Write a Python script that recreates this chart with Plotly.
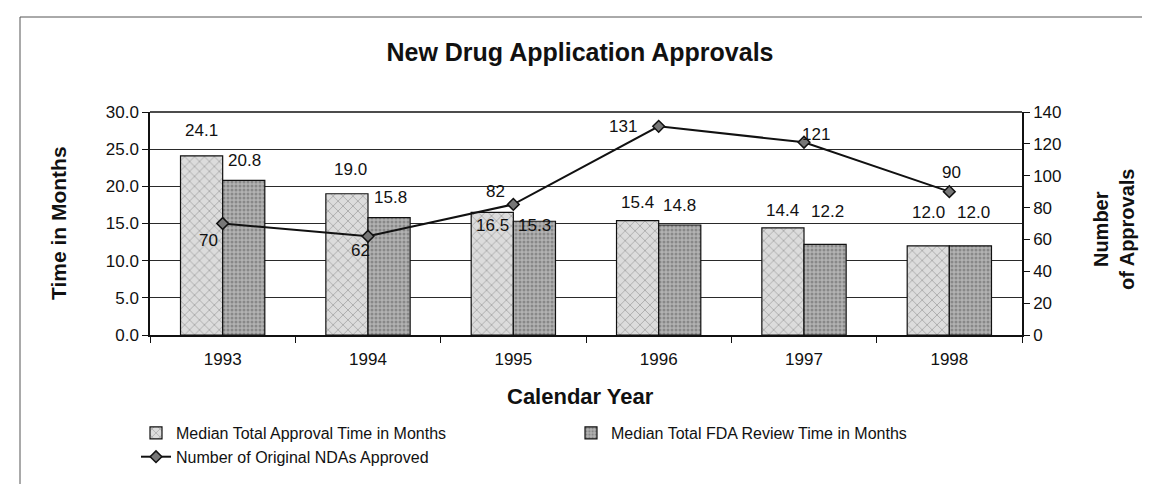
import plotly.graph_objects as go

# ---------------- data ----------------
years = ["1993", "1994", "1995", "1996", "1997", "1998"]
total_approval_months = [24.1, 19.0, 16.5, 15.4, 14.4, 12.0]
fda_review_months = [20.8, 15.8, 15.3, 14.8, 12.2, 12.0]
ndas_approved = [70, 62, 82, 131, 121, 90]

# ---------------- label offsets (pixels, styling only) ----------------
total_lbl_dx = [0, 4, 0, 0, 0, 0]
total_lbl_dy = [25, 24, -13, 18, 17, 33]
review_lbl_dx = [1, 1, 0, 0, 2, 3]
review_lbl_dy = [20, 20, -4, 19, 33, 33]
line_lbl_dx = [-14, -8, -18, -36, 12, 2]
line_lbl_dy = [-17, -14, 13, 0, 8, 19]

# ---------------- layout geometry ----------------
W, H = 1150, 484
ML, MR, MT, MB = 142, 136, 104, 157
PW = W - ML - MR
PH = H - MT - MB
BARGAP = 0.42
bar_px = PW / len(years) * (1 - BARGAP) / 2

FONT = "Liberation Sans, Arial, Helvetica, sans-serif"

xpos = list(range(len(years)))  # category index positions


def px_x(px):
    return (px - ML) / PW


def px_y(py):
    return (H - MB - py) / PH


fig = go.Figure()

fig.add_trace(go.Bar(
    x=xpos, y=total_approval_months,
    name="Median Total Approval Time in Months",
    marker=dict(
        color="#dadada",
        line=dict(color="#111", width=1.2),
        pattern=dict(shape="x", fgcolor="#7a7a7a", bgcolor="#dcdcdc", size=7, solidity=0.25),
    ),
))
fig.add_trace(go.Bar(
    x=xpos, y=fda_review_months,
    name="Median Total FDA Review Time in Months",
    marker=dict(
        color="#a8a8a8",
        line=dict(color="#111", width=1.2),
        pattern=dict(shape=".", fgcolor="#5e5e5e", bgcolor="#b2b2b2", size=4, solidity=0.45),
    ),
))
fig.add_trace(go.Scatter(
    x=xpos, y=ndas_approved, yaxis="y2",
    name="Number of Original NDAs Approved",
    mode="lines+markers",
    line=dict(color="#111", width=2),
    marker=dict(symbol="diamond", size=9, color="#777", line=dict(color="#111", width=1.5)),
))

ann = []
for i in xpos:
    ann.append(dict(x=i, y=total_approval_months[i], xref="x", yref="y",
                    text=f"{total_approval_months[i]:.1f}", showarrow=False,
                    xanchor="center", yanchor="middle",
                    xshift=-bar_px / 2 + total_lbl_dx[i], yshift=total_lbl_dy[i],
                    font=dict(size=17, color="#111", family=FONT)))
    ann.append(dict(x=i, y=fda_review_months[i], xref="x", yref="y",
                    text=f"{fda_review_months[i]:.1f}", showarrow=False,
                    xanchor="center", yanchor="middle",
                    xshift=bar_px / 2 + review_lbl_dx[i], yshift=review_lbl_dy[i],
                    font=dict(size=17, color="#111", family=FONT)))
    ann.append(dict(x=i, y=ndas_approved[i], xref="x", yref="y2",
                    text=str(ndas_approved[i]), showarrow=False,
                    xanchor="center", yanchor="middle",
                    xshift=line_lbl_dx[i], yshift=line_lbl_dy[i],
                    font=dict(size=17, color="#111", family=FONT)))

# axis titles
ann.append(dict(x=px_x(50), y=px_y(215), xref="paper", yref="paper", showarrow=False,
                xanchor="center", yanchor="middle",
                text="<b>Time in Months</b>", textangle=-90,
                font=dict(size=21, color="#111", family=FONT)))
ann.append(dict(x=px_x(1106), y=px_y(221), xref="paper", yref="paper", showarrow=False,
                xanchor="center", yanchor="middle",
                text="<b>Number<br>of Approvals</b>", textangle=-90,
                font=dict(size=20, color="#111", family=FONT)))
ann.append(dict(x=px_x(572), y=px_y(388), xref="paper", yref="paper", showarrow=False,
                xanchor="center", yanchor="middle",
                text="<b>Calendar Year</b>",
                font=dict(size=22, color="#111", family=FONT)))

fig.update_layout(
    width=W, height=H,
    margin=dict(l=ML, r=MR, t=MT, b=MB, autoexpand=False),
    paper_bgcolor="white", plot_bgcolor="white",
    font=dict(family=FONT, size=17, color="#111"),
    title=dict(text="<b>New Drug Application Approvals</b>",
               x=572 / W, xanchor="center", y=1 - 44 / H, yanchor="middle",
               font=dict(size=25, color="#111", family=FONT)),
    barmode="group", bargap=BARGAP, bargroupgap=0,
    xaxis=dict(
        range=[-0.5, len(years) - 0.5],
        tickmode="array", tickvals=xpos, ticktext=years,
        showline=True, linecolor="#111", linewidth=1.5,
        ticks="", tickfont=dict(size=17), showgrid=False, zeroline=False,
        ticklabelstandoff=8,
        minor=dict(tick0=0.5, dtick=1, ticks="outside", ticklen=6,
                   tickcolor="#111", showgrid=False),
    ),
    yaxis=dict(
        range=[0, 30], dtick=5, tickformat=".1f",
        showline=True, linecolor="#111", linewidth=1.5,
        ticks="outside", ticklen=6, tickcolor="#111",
        showgrid=True, gridcolor="#2a2a2a", gridwidth=1.2,
        zeroline=False, tickfont=dict(size=17),
    ),
    yaxis2=dict(
        range=[0, 140], dtick=20, overlaying="y", side="right",
        showline=True, linecolor="#111", linewidth=1.5,
        ticks="outside", ticklen=6, tickcolor="#111",
        showgrid=False, zeroline=False, tickfont=dict(size=17),
    ),
    legend=dict(
        orientation="h", x=px_x(128), y=px_y(408), xanchor="left", yanchor="top",
        entrywidth=390, entrywidthmode="pixels",
        font=dict(size=16, family=FONT, color="#111"),
        traceorder="normal", tracegroupgap=0, itemwidth=30,
        bgcolor="rgba(0,0,0,0)",
    ),
    annotations=ann,
    shapes=[
        dict(type="rect", xref="paper", yref="paper",
             x0=px_x(12), x1=px_x(1149), y0=px_y(9), y1=px_y(492),
             line=dict(color="#555", width=1)),
        dict(type="line", xref="paper", yref="paper",
             x0=0, x1=1, y0=1, y1=1, line=dict(color="#111", width=1.5)),
    ],
)

fig.write_html("out.html")
